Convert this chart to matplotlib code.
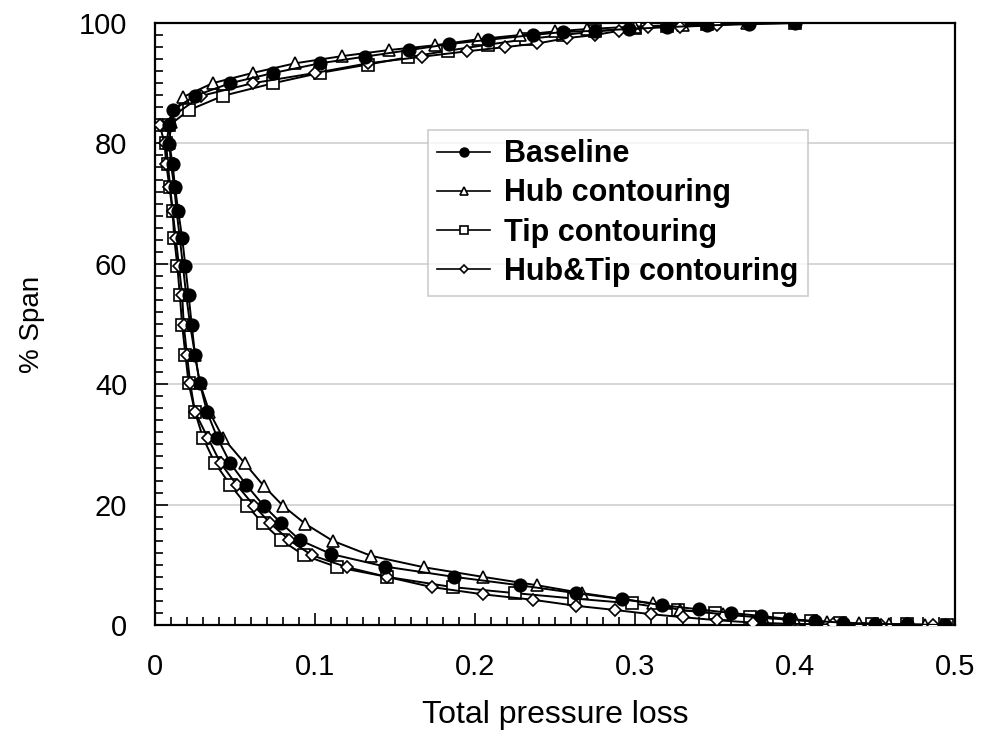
import matplotlib
matplotlib.use("Agg")
import matplotlib.pyplot as plt
from matplotlib.ticker import MultipleLocator

plt.rcParams['font.family'] = ['Liberation Sans', 'DejaVu Sans']

# ---------------- data ----------------
base_span = [0, 0.1, 0.2, 0.4, 0.66, 1.0, 1.5, 2.0, 2.6, 3.3, 4.3, 5.3, 6.6, 8.0, 9.7,
             11.8, 14.1, 16.9, 19.8, 23.3, 26.9, 31.1, 35.4, 40.2, 44.9, 49.8, 54.8,
             59.6, 64.3, 68.8, 72.8, 76.6, 79.9, 83.0, 85.5, 87.9, 90.0, 91.7, 93.3,
             94.4, 95.5, 96.5, 97.2, 98.0, 98.5, 98.7, 99.0, 99.3, 99.6, 99.8, 100]
base_loss = [0.494, 0.47, 0.45, 0.43, 0.4125, 0.396, 0.379, 0.36, 0.34, 0.317, 0.292,
             0.263, 0.228, 0.187, 0.144, 0.11, 0.0906, 0.079, 0.068, 0.057, 0.047,
             0.039, 0.0325, 0.028, 0.025, 0.023, 0.021, 0.019, 0.017, 0.0145, 0.0125,
             0.011, 0.009, 0.009, 0.011, 0.025, 0.047, 0.074, 0.103, 0.131, 0.159,
             0.184, 0.208, 0.236, 0.255, 0.275, 0.296, 0.32, 0.345, 0.371, 0.40]

hub_span = [0, 0.1, 0.3, 0.5, 0.8, 1.2, 1.8, 2.5, 3.6, 5.3, 6.6, 8.0, 9.6, 11.5, 14.0,
            16.8, 19.8, 23.1, 26.9, 31.1, 35.4, 40.2, 44.9, 49.8, 54.8, 59.6, 64.3,
            68.8, 72.8, 76.6, 80.0, 83.5, 87.7, 90.0, 91.7, 93.3, 94.5, 95.5, 96.3,
            97.3, 98.0, 98.6, 99.0, 99.4, 99.7, 100]
hub_loss = [0.481, 0.459, 0.44, 0.42, 0.40, 0.38, 0.355, 0.328, 0.311, 0.267, 0.239,
            0.205, 0.168, 0.135, 0.111, 0.094, 0.08, 0.068, 0.056, 0.0425, 0.034,
            0.028, 0.025, 0.022, 0.0195, 0.0175, 0.0155, 0.0135, 0.012, 0.010, 0.009,
            0.010, 0.0175, 0.036, 0.061, 0.0875, 0.117, 0.146, 0.175, 0.202, 0.228,
            0.25, 0.27, 0.30, 0.33, 0.37]

tip_span = [0, 0.1, 0.2, 0.4, 0.7, 1.0, 1.4, 2.0, 2.5, 3.6, 4.4, 5.3, 6.3, 8.0, 9.6,
            11.6, 14.1, 16.9, 19.8, 23.3, 26.9, 31.1, 35.4, 40.2, 44.9, 49.8, 54.8,
            59.6, 64.3, 68.8, 72.8, 76.6, 80.0, 83.0, 85.5, 87.9, 90.0, 91.7, 93.1,
            94.3, 95.4, 96.4, 97.3, 98.0, 98.6, 99.1, 99.5, 99.8, 100]
tip_loss = [0.495, 0.47, 0.448, 0.428, 0.41, 0.39, 0.372, 0.35, 0.327, 0.298, 0.262,
            0.225, 0.186, 0.145, 0.114, 0.093, 0.079, 0.0675, 0.0575, 0.047, 0.0375,
            0.030, 0.025, 0.021, 0.019, 0.017, 0.0155, 0.014, 0.012, 0.011, 0.0095,
            0.008, 0.007, 0.009, 0.021, 0.0425, 0.074, 0.103, 0.133, 0.158, 0.183,
            0.208, 0.232, 0.255, 0.275, 0.30, 0.32, 0.345, 0.40]

ht_span = [0, 0.05, 0.1, 0.2, 0.4, 0.8, 1.3, 1.8, 2.5, 3.2, 4.2, 5.1, 6.3, 8.0, 9.6,
           11.6, 14.1, 16.9, 19.8, 23.3, 26.9, 31.1, 35.4, 40.2, 44.9, 49.8, 54.8,
           59.6, 64.3, 68.8, 72.8, 76.6, 80.0, 83.0, 87.9, 90.0, 91.7, 93.3, 94.4,
           95.3, 96.0, 96.6, 97.5, 98.0, 98.7, 99.3, 99.4, 99.6, 100]
ht_loss = [0.486, 0.454, 0.424, 0.397, 0.374, 0.351, 0.33, 0.31, 0.2875, 0.263, 0.236,
           0.205, 0.173, 0.145, 0.12, 0.098, 0.084, 0.072, 0.062, 0.051, 0.041, 0.033,
           0.025, 0.022, 0.020, 0.018, 0.017, 0.015, 0.013, 0.011, 0.009, 0.007,
           0.006, 0.003, 0.029, 0.061, 0.10, 0.133, 0.167, 0.195, 0.219, 0.239,
           0.2575, 0.275, 0.29, 0.308, 0.328, 0.351, 0.37]

labels = ["Baseline", "Hub contouring", "Tip contouring", "Hub&Tip contouring"]
xtick_vals = [0, 0.1, 0.2, 0.3, 0.4, 0.5]
xtick_text = ["0", "0.1", "0.2", "0.3", "0.4", "0.5"]

# ---------------- plot ----------------
fig = plt.figure(figsize=(9.84, 7.30), dpi=100)
ax = fig.add_axes([0.1575, 0.1438, 0.8130, 0.8247])

common = dict(color='black', lw=1.4, markeredgecolor='black', markeredgewidth=1.2)
ax.plot(base_loss, base_span, marker='o', markersize=9, markerfacecolor='black',
        label=labels[0], zorder=5, **common)
ax.plot(hub_loss, hub_span, marker='^', markersize=9, markerfacecolor='white',
        label=labels[1], zorder=4, **common)
ax.plot(tip_loss, tip_span, marker='s', markersize=8.5, markerfacecolor='white',
        label=labels[2], zorder=3, **common)
ax.plot(ht_loss, ht_span, marker='D', markersize=6.5, markerfacecolor='white',
        label=labels[3], zorder=4, **common)

ax.set_xlim(0, 0.5)
ax.set_ylim(0, 100)
ax.xaxis.set_minor_locator(MultipleLocator(0.01))
ax.yaxis.set_major_locator(MultipleLocator(20))
ax.yaxis.set_minor_locator(MultipleLocator(2))
ax.set_xticks(xtick_vals)
ax.set_xticklabels(xtick_text)
ax.tick_params(which='both', direction='in', top=False, right=False,
               labelsize=21, width=1.2)
ax.tick_params(axis='x', which='major', pad=20)
ax.tick_params(axis='y', which='major', pad=20)
ax.tick_params(which='major', length=9)
ax.tick_params(which='minor', length=6)
ax.yaxis.grid(True, which='major', color='#d0d0d0', lw=1.2, zorder=0)
ax.set_axisbelow(True)
for s in ax.spines.values():
    s.set_linewidth(1.6)

ax.set_xlabel("Total pressure loss", fontsize=23, labelpad=14)
ax.set_ylabel("% Span", fontsize=20, labelpad=24)

leg = ax.legend(loc='upper left', bbox_to_anchor=(0.341, 0.822), borderaxespad=0,
                prop={'weight': 'bold', 'size': 22}, frameon=True, fancybox=False,
                edgecolor='#c0c0c0', handlelength=1.75, handletextpad=0.45,
                borderpad=0.3, labelspacing=0.3, markerscale=0.7)
leg.get_frame().set_linewidth(1.2)
for h in leg.get_lines():
    h.set_linewidth(1.2)

fig.savefig("out.png", dpi=100)
